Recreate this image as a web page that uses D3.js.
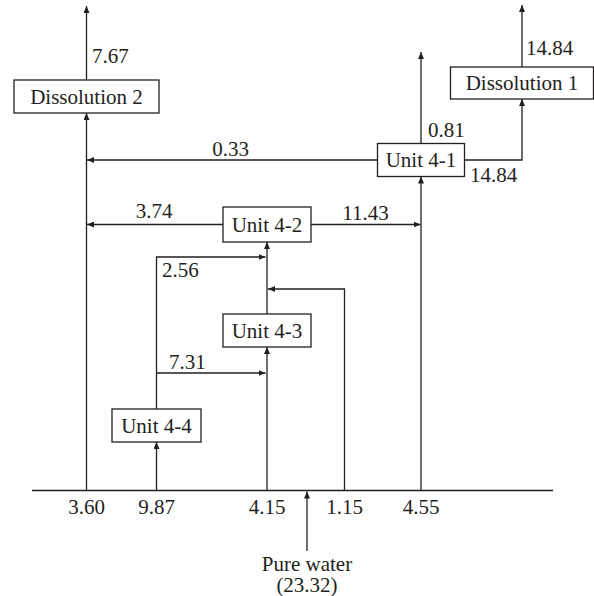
<!DOCTYPE html>
<html>
<head>
<meta charset="utf-8">
<script src="https://cdn.jsdelivr.net/npm/d3@7"></script>
<style>
  html, body { margin: 0; padding: 0; background: #fff; }
  svg { display: block; }
</style>
</head>
<body>
<svg id="chart" width="594" height="596"></svg>
<script>
// ---------------- DATA ----------------
const units = ["Dissolution 1", "Dissolution 2", "Unit 4-1", "Unit 4-2", "Unit 4-3", "Unit 4-4"];
// fresh-water feeds taken off the pure-water header (left to right)
const feedTargets = ["Dissolution 2", "Unit 4-4", "Unit 4-3", "Unit 4-2", "Unit 4-1"];
const feedValues  = [3.60, 9.87, 4.15, 1.15, 4.55];
const pureWaterTotal = 23.32;
// reuse / outlet flows
const flowFrom  = ["Unit 4-4", "Unit 4-4", "Unit 4-3", "Unit 4-2", "Unit 4-2", "Unit 4-1", "Unit 4-1", "Unit 4-1", "Dissolution 2", "Dissolution 1"];
const flowTo    = ["Unit 4-2", "Unit 4-3", "Unit 4-2", "Dissolution 2", "Unit 4-1", "Dissolution 2", "Dissolution 1", "out", "out", "out"];
const flowValue = [2.56, 7.31, null, 3.74, 11.43, 0.33, 14.84, 0.81, 7.67, 14.84];

// ---------------- LAYOUT (scales) ----------------
const col = d3.scaleOrdinal()
  .domain(["left", "u44", "mid", "pure", "side", "u41", "d1"])
  .range([86.5, 156.5, 267, 307, 344.5, 421, 522]);
const row = d3.scaleOrdinal()
  .domain(["header", "d1top", "d2top", "u41out", "d1box", "d2box", "u41", "u42", "r256", "r115", "u43", "r731", "u44", "pwStart"])
  .range([490.5, 5, 6, 52, 83, 96.5, 160, 224.5, 257, 289, 330.5, 373, 425.5, 551]);
const boxW = d3.scaleOrdinal().domain(units).range([143, 145, 87, 88, 88, 89]);
const boxH = d3.scaleOrdinal().domain(units).range([32, 33, 33, 35, 33, 33]);
const boxCol = d3.scaleOrdinal().domain(units).range(["d1", "left", "u41", "mid", "mid", "u44"]);
const boxRow = d3.scaleOrdinal().domain(units).range(["d1box", "d2box", "u41", "u42", "u43", "u44"]);
const feedCol = d3.scaleOrdinal().domain(feedTargets).range(["left", "u44", "mid", "side", "u41"]);

const box = name => {
  const cx = col(boxCol(name)), cy = row(boxRow(name));
  const w = boxW(name), h = boxH(name);
  return { cx, cy, x0: cx - w / 2, x1: cx + w / 2, y0: cy - h / 2, y1: cy + h / 2 };
};

const svg = d3.select("#chart");
const ink = "#231f20";
const FONT = "'Liberation Serif'";
const FS = "21px";

svg.append("defs").append("marker")
  .attr("id", "arr").attr("markerUnits", "userSpaceOnUse")
  .attr("markerWidth", 8).attr("markerHeight", 6)
  .attr("refX", 7).attr("refY", 3).attr("orient", "auto")
  .append("path").attr("d", "M0,0 L7,3 L0,6 Z").attr("fill", ink);

const line = d3.line();
const gL = svg.append("g").attr("fill", "none").attr("stroke", ink).attr("stroke-width", 1.3);
const draw = (pts, arrow = true) => {
  const p = gL.append("path").attr("d", line(pts));
  if (arrow) p.attr("marker-end", "url(#arr)");
  return p;
};
const gT = svg.append("g");
const label = (x, y, t, anchor = "middle") =>
  gT.append("text").attr("x", x).attr("y", y).attr("text-anchor", anchor)
    .style("font-family", FONT).style("font-size", FS).style("fill", ink).text(t);

// header line
draw([[32, row("header")], [553, row("header")]], false);

// feeds from header
const fmt = d3.format(".2f");
feedTargets.forEach((t, i) => {
  const x = col(feedCol(t));
  if (t === "Unit 4-2") {
    draw([[x, row("header")], [x, row("r115")], [col("mid") + 1, row("r115")]]);
  } else {
    draw([[x, row("header")], [x, box(t).y1]]);
  }
  label(x, 514, fmt(feedValues[i]));
});

// pure water inlet
draw([[col("pure"), row("pwStart")], [col("pure"), row("header") + 1]]);
const pw = gT.append("text").attr("text-anchor", "middle")
  .style("font-family", FONT).style("font-size", FS).style("fill", ink);
pw.append("tspan").attr("x", col("pure")).attr("y", 570.5).text("Pure water");
pw.append("tspan").attr("x", col("pure")).attr("y", 592).text("(" + fmt(pureWaterTotal) + ")");

// flows
const B = Object.fromEntries(units.map(u => [u, box(u)]));
flowFrom.forEach((f, i) => {
  const t = flowTo[i], v = flowValue[i];
  const a = B[f];
  if (f === "Unit 4-4" && t === "Unit 4-2") {
    draw([[a.cx, a.y0], [a.cx, row("r256")], [col("mid") - 1.5, row("r256")]]);
    label(162, 277, fmt(v), "start");
  } else if (f === "Unit 4-4" && t === "Unit 4-3") {
    draw([[a.cx, row("r731")], [col("mid") - 1.5, row("r731")]]);
    label(169, 369, fmt(v), "start");
  } else if (f === "Unit 4-3") {
    draw([[a.cx, a.y0], [a.cx, B[t].y1]]);
  } else if (f === "Unit 4-2" && t === "Dissolution 2") {
    draw([[a.x0, a.cy], [col("left") + 0.5, a.cy]]);
    label(154, 218, fmt(v));
  } else if (f === "Unit 4-2" && t === "Unit 4-1") {
    draw([[a.x1, a.cy], [col("u41") - 0.5, a.cy]]);
    label(365.5, 220, fmt(v));
  } else if (f === "Unit 4-1" && t === "Dissolution 2") {
    draw([[a.x0, a.cy], [col("left") + 0.5, a.cy]]);
    label(230.5, 156, fmt(v));
  } else if (f === "Unit 4-1" && t === "Dissolution 1") {
    draw([[a.x1, a.cy], [col("d1"), a.cy], [col("d1"), B[t].y1]]);
    label(470, 182, fmt(v), "start");
  } else if (f === "Unit 4-1" && t === "out") {
    draw([[a.cx, a.y0], [a.cx, row("u41out")]]);
    label(428, 137, fmt(v), "start");
  } else if (f === "Dissolution 2") {
    draw([[a.cx, a.y0], [a.cx, row("d2top")]]);
    label(92, 63, fmt(v), "start");
  } else if (f === "Dissolution 1") {
    draw([[a.cx, a.y0], [a.cx, row("d1top")]]);
    label(526, 55, fmt(v), "start");
  }
});

// unit boxes
const gB = svg.append("g");
units.forEach(u => {
  const b = B[u];
  gB.append("rect").attr("x", b.x0).attr("y", b.y0)
    .attr("width", b.x1 - b.x0).attr("height", b.y1 - b.y0)
    .attr("fill", "#fff").attr("stroke", ink).attr("stroke-width", 1.3);
  gB.append("text").attr("x", b.cx).attr("y", b.cy + 7)
    .attr("text-anchor", "middle")
    .style("font-family", FONT).style("font-size", FS).style("fill", ink).text(u);
});
</script>
</body>
</html>
